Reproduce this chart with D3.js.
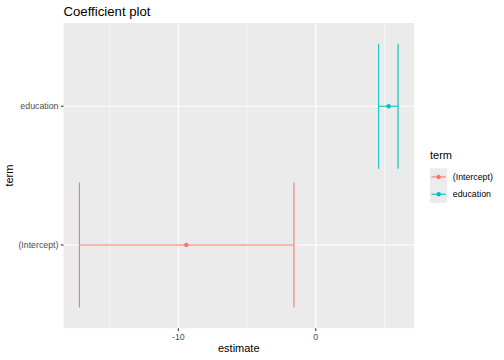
<!DOCTYPE html>
<html><head><meta charset="utf-8">
<script src="https://cdn.jsdelivr.net/npm/d3@7"></script>
<style>body{margin:0;background:#fff}svg{display:block;font-family:"Liberation Sans",Arial,sans-serif}</style>
</head><body><svg id="c" width="504" height="360"></svg>
<script>
const terms = ["(Intercept)", "education"];
const estimates = [-9.42, 5.31];
const confLow = [-17.2, 4.58];
const confHigh = [-1.59, 5.99];
const colors = ["#F8766D", "#00BFC4"];
const xTicks = [-10, 0];
const xMinor = [-15, -5, 5];

const svg = d3.select("#c");
const L = 63.5, R = 414, T = 23, B = 328.2;
const lo = d3.min(confLow), hi = d3.max(confHigh), pad = (hi - lo) * 0.05;
const x = d3.scaleLinear().domain([lo - pad, hi + pad]).range([L, R]);
const y = d3.scaleLinear().domain([0.4, 2.6]).range([B, T]);
const yPos = t => y(terms.indexOf(t) + 1);

svg.append("rect").attr("x", L).attr("y", T).attr("width", R - L).attr("height", B - T).attr("fill", "#EBEBEB");
svg.selectAll(".gmin").data(xMinor).join("line").attr("x1", d => x(d)).attr("x2", d => x(d)).attr("y1", T).attr("y2", B)
  .attr("stroke", "#fff").attr("stroke-width", 0.55);
svg.selectAll(".gmaj").data(xTicks).join("line").attr("x1", d => x(d)).attr("x2", d => x(d)).attr("y1", T).attr("y2", B)
  .attr("stroke", "#fff").attr("stroke-width", 1.1);
svg.selectAll(".gy").data(terms).join("line").attr("x1", L).attr("x2", R).attr("y1", d => yPos(d)).attr("y2", d => yPos(d))
  .attr("stroke", "#fff").attr("stroke-width", 1.1);

// x axis
const xa = svg.append("g").attr("transform", `translate(0,${B})`);
xTicks.forEach(v => {
  xa.append("line").attr("x1", x(v)).attr("x2", x(v)).attr("y1", 0).attr("y2", 2.7).attr("stroke", "#333").attr("stroke-width", 1.07);
  xa.append("text").attr("x", x(v)).attr("y", 11.5).attr("text-anchor", "middle").attr("font-size", 8.8).attr("fill", "#4D4D4D").text(v);
});
// y axis
terms.forEach(t => {
  svg.append("line").attr("x1", L - 2.7).attr("x2", L).attr("y1", yPos(t)).attr("y2", yPos(t)).attr("stroke", "#333").attr("stroke-width", 1.07);
  svg.append("text").attr("x", L - 5).attr("y", yPos(t)).attr("dy", "0.35em").attr("text-anchor", "end").attr("font-size", 8.8).attr("fill", "#4D4D4D").text(t);
});

svg.append("text").attr("x", (L + R) / 2).attr("y", 352).attr("text-anchor", "middle").attr("font-size", 11).attr("fill", "#000").text("estimate");
svg.append("text").attr("transform", `translate(13,${(T + B) / 2}) rotate(-90)`).attr("text-anchor", "middle").attr("font-size", 11).attr("fill", "#000").text("term");
svg.append("text").attr("x", L).attr("y", 15.5).attr("font-size", 13.2).attr("fill", "#000").text("Coefficient plot");

// error bars
const h = 0.45;
terms.forEach((t, i) => {
  const g = svg.append("g").attr("stroke", colors[i]).attr("stroke-width", 1.07);
  const yc = i + 1;
  g.append("line").attr("x1", x(confLow[i])).attr("x2", x(confHigh[i])).attr("y1", y(yc)).attr("y2", y(yc));
  g.append("line").attr("x1", x(confLow[i])).attr("x2", x(confLow[i])).attr("y1", y(yc - h)).attr("y2", y(yc + h));
  g.append("line").attr("x1", x(confHigh[i])).attr("x2", x(confHigh[i])).attr("y1", y(yc - h)).attr("y2", y(yc + h));
  svg.append("circle").attr("cx", x(estimates[i])).attr("cy", y(yc)).attr("r", 2.2).attr("fill", colors[i]);
});

// legend
const lx = 430, ly = 168.3, ks = 17.28;
svg.append("text").attr("x", lx).attr("y", 159).attr("font-size", 11).attr("fill", "#000").text("term");
terms.forEach((t, i) => {
  const yy = ly + i * ks;
  svg.append("rect").attr("x", lx).attr("y", yy).attr("width", ks).attr("height", ks).attr("fill", "#EBEBEB");
  svg.append("line").attr("x1", lx + 1.5).attr("x2", lx + ks - 1.5).attr("y1", yy + ks / 2).attr("y2", yy + ks / 2).attr("stroke", colors[i]).attr("stroke-width", 1.07);
  svg.append("circle").attr("cx", lx + ks / 2).attr("cy", yy + ks / 2).attr("r", 2.2).attr("fill", colors[i]);
  svg.append("text").attr("x", lx + ks + 5.5).attr("y", yy + ks / 2).attr("dy", "0.35em").attr("font-size", 8.8).attr("fill", "#000").text(t);
});
</script></body></html>
